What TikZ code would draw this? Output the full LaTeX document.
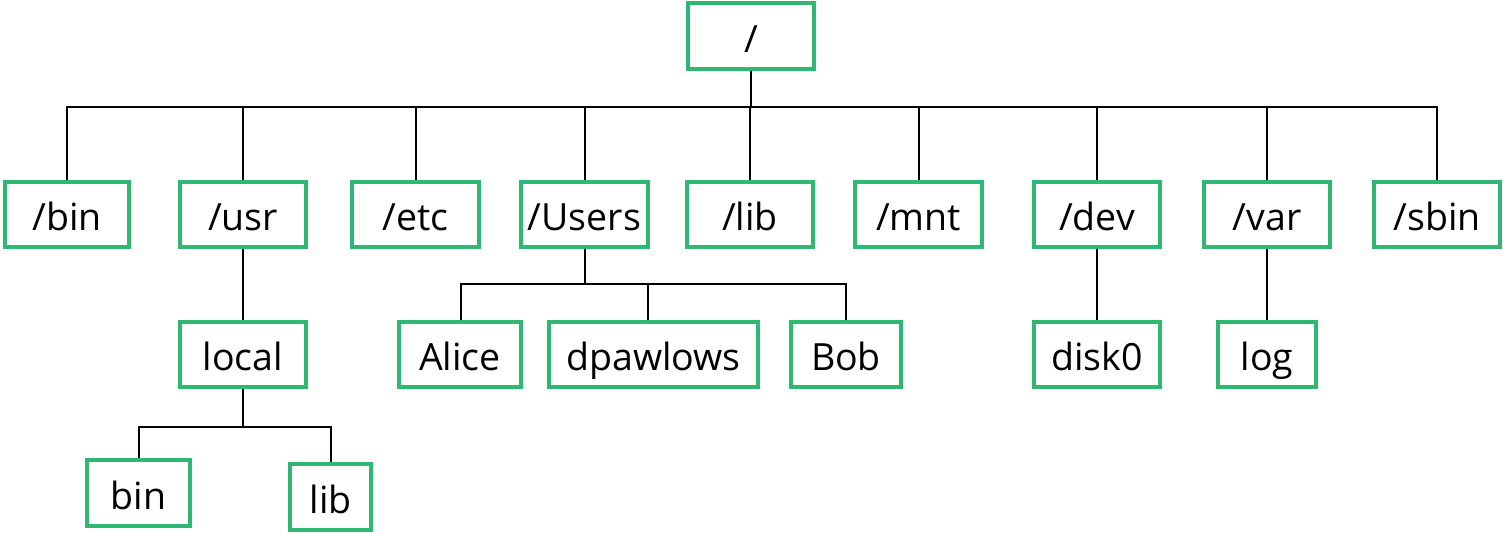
\documentclass[tikz,border=0pt]{standalone}
\usepackage{fontspec}
\setmainfont{Open Sans}
\definecolor{boxgreen}{RGB}{46,184,114}
\tikzset{
  dirbox/.style={draw=boxgreen, line width=4pt, inner sep=0pt, minimum height=65pt,
    text height=32pt, text depth=0pt, font=\fontsize{37.5}{44}\selectfont},
  link/.style={draw=black, line width=2pt}
}
\begin{document}
\begin{tikzpicture}[x=1pt,y=-1pt]
\useasboundingbox (0,0) rectangle (1503,533);
% root
\node[dirbox, minimum width=126pt, minimum height=66pt] (root) at (751,36) {/};
% first level
\node[dirbox, minimum width=124pt] (bin)   at (67,214.5)   {/bin};
\node[dirbox, minimum width=126pt] (usr)   at (243,214.5)  {/usr};
\node[dirbox, minimum width=127pt] (etc)   at (415.5,214.5) {/etc};
\node[dirbox, minimum width=127pt] (users) at (584.5,214.5) {/Users};
\node[dirbox, minimum width=126pt] (lib)   at (750,214.5)  {/lib};
\node[dirbox, minimum width=127pt] (mnt)   at (918.5,214.5) {/mnt};
\node[dirbox, minimum width=126pt] (dev)   at (1097,214.5) {/dev};
\node[dirbox, minimum width=126pt] (var)   at (1267,214.5) {/var};
\node[dirbox, minimum width=126pt] (sbin)  at (1437,214.5) {/sbin};
% second level
\node[dirbox, minimum width=126pt] (local) at (243,354.5)  {local};
\node[dirbox, minimum width=122pt] (alice) at (460,354.5)  {Alice};
\node[dirbox, minimum width=209pt] (dpaw)  at (653.5,354.5) {dpawlows};
\node[dirbox, minimum width=110pt] (bob)   at (846,354.5)  {Bob};
\node[dirbox, minimum width=126pt] (disk)  at (1097,354.5) {disk0};
\node[dirbox, minimum width=98pt]  (log)   at (1267,354.5) {log};
% third level
\node[dirbox, minimum width=103pt, minimum height=66pt] (lbin) at (138.5,493) {bin};
\node[dirbox, minimum width=81pt, minimum height=66pt]  (llib) at (330.5,497) {lib};
% bus points
\coordinate (rb) at (751,107);
\coordinate (ub) at (584.5,284);
\coordinate (lb) at (243,427);
% root connectors
\draw[link] (root.south) -- (rb);
\foreach \n in {bin,usr,etc,users,lib,mnt,dev,var,sbin}
  \draw[link] (\n.north) |- (rb);
% users connectors
\draw[link] (users.south) -- (ub);
\draw[link] ([xshift=1pt]alice.north) |- (ub);
\draw[link] ([xshift=-5.5pt]dpaw.north) |- (ub);
\draw[link] (bob.north) |- (ub);
% local connectors
\draw[link] (usr.south) -- (local.north);
\draw[link] (local.south) -- (lb);
\draw[link] (lbin.north) |- (lb);
\draw[link] (llib.north) |- (lb);
% dev, var
\draw[link] (dev.south) -- (disk.north);
\draw[link] (var.south) -- (log.north);
\end{tikzpicture}
\end{document}
